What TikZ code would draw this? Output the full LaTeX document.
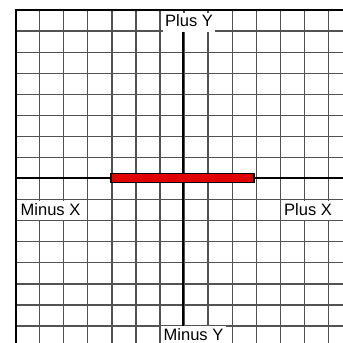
\documentclass[tikz,border=0pt]{standalone}
\usepackage{fontspec}
\setmainfont{Liberation Sans}
\definecolor{barred}{RGB}{225,0,0}
\begin{document}
\begin{tikzpicture}[x=1pt,y=-1pt,
  gridline/.style={draw=black!68,line width=1.25pt},
  frame/.style={draw=black,line width=2.2pt},
  axisline/.style={draw=black,line width=2pt},
  lab/.style={fill=white,inner xsep=2.5pt,inner ysep=2pt,text height=12pt,text depth=3pt,
    font=\fontsize{16.5}{18}\selectfont},
  redbar/.style={draw=black,line width=1.3pt,fill=barred,minimum width=143pt,minimum height=9pt,inner sep=0pt}]
\useasboundingbox (0,0) rectangle (343,343);
\begin{scope}
\clip (0,0) rectangle (343,343);
\foreach \i in {0,...,13} \draw[gridline] ({15.7+24.05*\i},10) -- ({15.7+24.05*\i},350);
\foreach \j in {0,...,16} \draw[gridline] (15.7,{10+21.07*\j}) -- (350,{10+21.07*\j});
\coordinate (xl) at (15.7,177.8);
\coordinate (xr) at (350,177.8);
\draw[axisline] (xl) -- (xr);
\node[lab,anchor=base west] (py) at (162.5,26.5) {Plus Y};
\node[lab,anchor=base west] (mx) at (18,215) {Minus X};
\node[lab,anchor=base west] (px) at (281.5,215) {Plus X};
\node[lab,anchor=base west] (my) at (161,340.3) {Minus Y};
\coordinate (yc) at (183.3,0);
\draw[axisline] (py.south -| yc) -- (my.north -| yc);
\node[redbar] (bar) at (182.6,177.8) {};
\draw[frame] (15.7,350) -- (15.7,10) -- (350,10);
\end{scope}
\end{tikzpicture}
\end{document}
